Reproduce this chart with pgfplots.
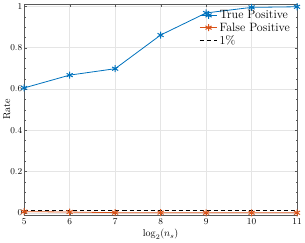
\documentclass[border=0pt]{standalone}
\usepackage{pgfplots}
\pgfplotsset{compat=1.18}
\definecolor{mblue}{rgb}{0,0.447,0.741}
\definecolor{morange}{rgb}{0.85,0.325,0.098}
\begin{document}
\begin{tikzpicture}
\begin{axis}[
  scale only axis, width=272pt, height=210pt,
  xmin=5, xmax=11, ymin=-0.01, ymax=1.01,
  xtick={5,...,11}, ytick={0,0.2,0.4,0.6,0.8,1},
  yticklabels={0,0.2,0.4,0.6,0.8,1},
  minor y tick num=3, minor x tick num=0,
  grid=major, major grid style={gray!20},
  axis line style={gray!70!black, line width=0.4pt},
  tick style={gray!70!black},
  tick align=inside, major tick length=2.5pt, minor tick length=1.5pt,
  xtick pos=both, ytick pos=both,
  ticklabel style={font=\small},
  yticklabel style={xshift=1.5pt},
  xlabel={$\log_2(n_s)$}, ylabel={Rate},
  label style={font=\normalsize},
  xlabel style={yshift=2pt}, ylabel style={yshift=-7pt},
  legend style={draw=none, fill=none, at={(1,1)}, anchor=north east, font=\large, row sep=-1.5pt, xshift=-2pt, yshift=-2pt},
  legend cell align=left,
]
\addplot[mblue, line width=0.8pt, mark=asterisk, mark size=3.5pt, mark options={line width=1pt}] coordinates {(5,0.605) (6,0.667) (7,0.698) (8,0.861) (9,0.968) (10,0.995) (11,0.998)};
\addlegendentry{True Positive}
\addplot[morange, line width=0.8pt, mark=asterisk, mark size=3.5pt, mark options={line width=1pt}] coordinates {(5,0.006) (6,0.004) (7,0.001) (8,0.001) (9,0.0005) (10,0.0005) (11,0.0005)};
\addlegendentry{False Positive}
\addplot[black, line width=1pt, dash pattern=on 4pt off 3pt] coordinates {(5,0.01) (11,0.01)};
\addlegendentry{1\%}
\end{axis}
\end{tikzpicture}
\end{document}
